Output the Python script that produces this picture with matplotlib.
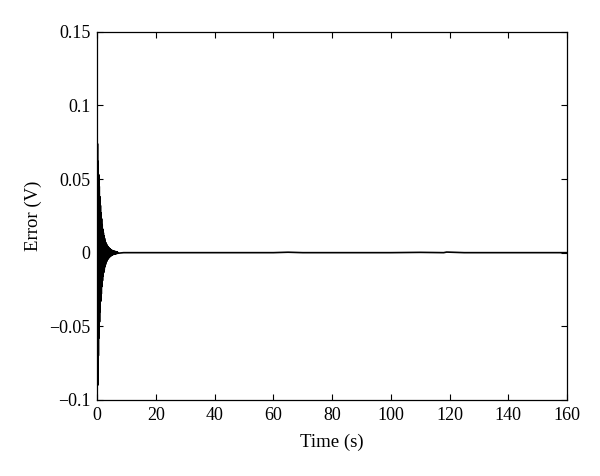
"""Tracking error transient (MATLAB-style figure)."""

import matplotlib

matplotlib.use("Agg")
import matplotlib.pyplot as plt
import numpy as np

transient_time = np.round(np.arange(0.0, 7.05, 0.1), 2)
transient_error = [
    0.0, 0.074, -0.090, 0.062, -0.070, 0.053, -0.058, 0.045, -0.047, 0.038,
    -0.040, 0.032, -0.033, 0.027, -0.028, 0.023, -0.023, 0.019, -0.019, 0.016,
    -0.016, 0.0135, -0.0135, 0.0115, -0.0115, 0.0097, -0.0097, 0.0082, -0.0082, 0.0069,
    -0.0069, 0.0060, -0.0060, 0.0052, -0.0052, 0.0045, -0.0045, 0.0039, -0.0039, 0.0034,
    -0.0034, 0.0030, -0.0030, 0.0026, -0.0026, 0.0023, -0.0023, 0.0020, -0.0020, 0.0017,
    -0.0017, 0.0015, -0.0015, 0.0013, -0.0013, 0.0011, -0.0011, 0.0010, -0.0010, 0.0009,
    -0.0009, 0.0008, -0.0008, 0.0007, -0.0007, 0.0006, -0.0006, 0.0005, -0.0005, 0.0004,
    -0.0004,
]
# steady state after the transient
steady_time = [9, 40, 60, 65, 70, 100, 110, 118, 119, 125, 160]
steady_error = [0.0, 0.0, 0.0, 0.0003, 0.0, 0.0, 0.0002, 0.0, 0.0004, 0.0, 0.0]

time = np.concatenate([transient_time, steady_time])
error = np.concatenate([transient_error, steady_error])

plt.rcParams["font.family"] = ["Liberation Serif", "DejaVu Serif"]

fig = plt.figure(figsize=(6.0, 4.76), dpi=100)
ax = fig.add_axes([0.162, 0.160, 0.783, 0.773])
ax.plot(time, error, color="black", linewidth=1.2)

ax.set_xlim(0, 160)
ax.set_ylim(-0.1, 0.15)
ax.set_xticks(np.arange(0, 161, 20))
ax.set_yticks([-0.1, -0.05, 0, 0.05, 0.1, 0.15])
ax.set_yticklabels(["\u22120.1", "\u22120.05", "0", "0.05", "0.1", "0.15"])
ax.tick_params(direction="in", top=True, right=True, length=4, width=0.8,
               labelsize=13, pad=5)
for s in ax.spines.values():
    s.set_linewidth(0.9)

ax.set_xlabel("Time (s)", fontsize=13.5, labelpad=7)
ax.set_ylabel("Error (V)", fontsize=13.5, labelpad=5)

fig.savefig("out.png", dpi=100)
